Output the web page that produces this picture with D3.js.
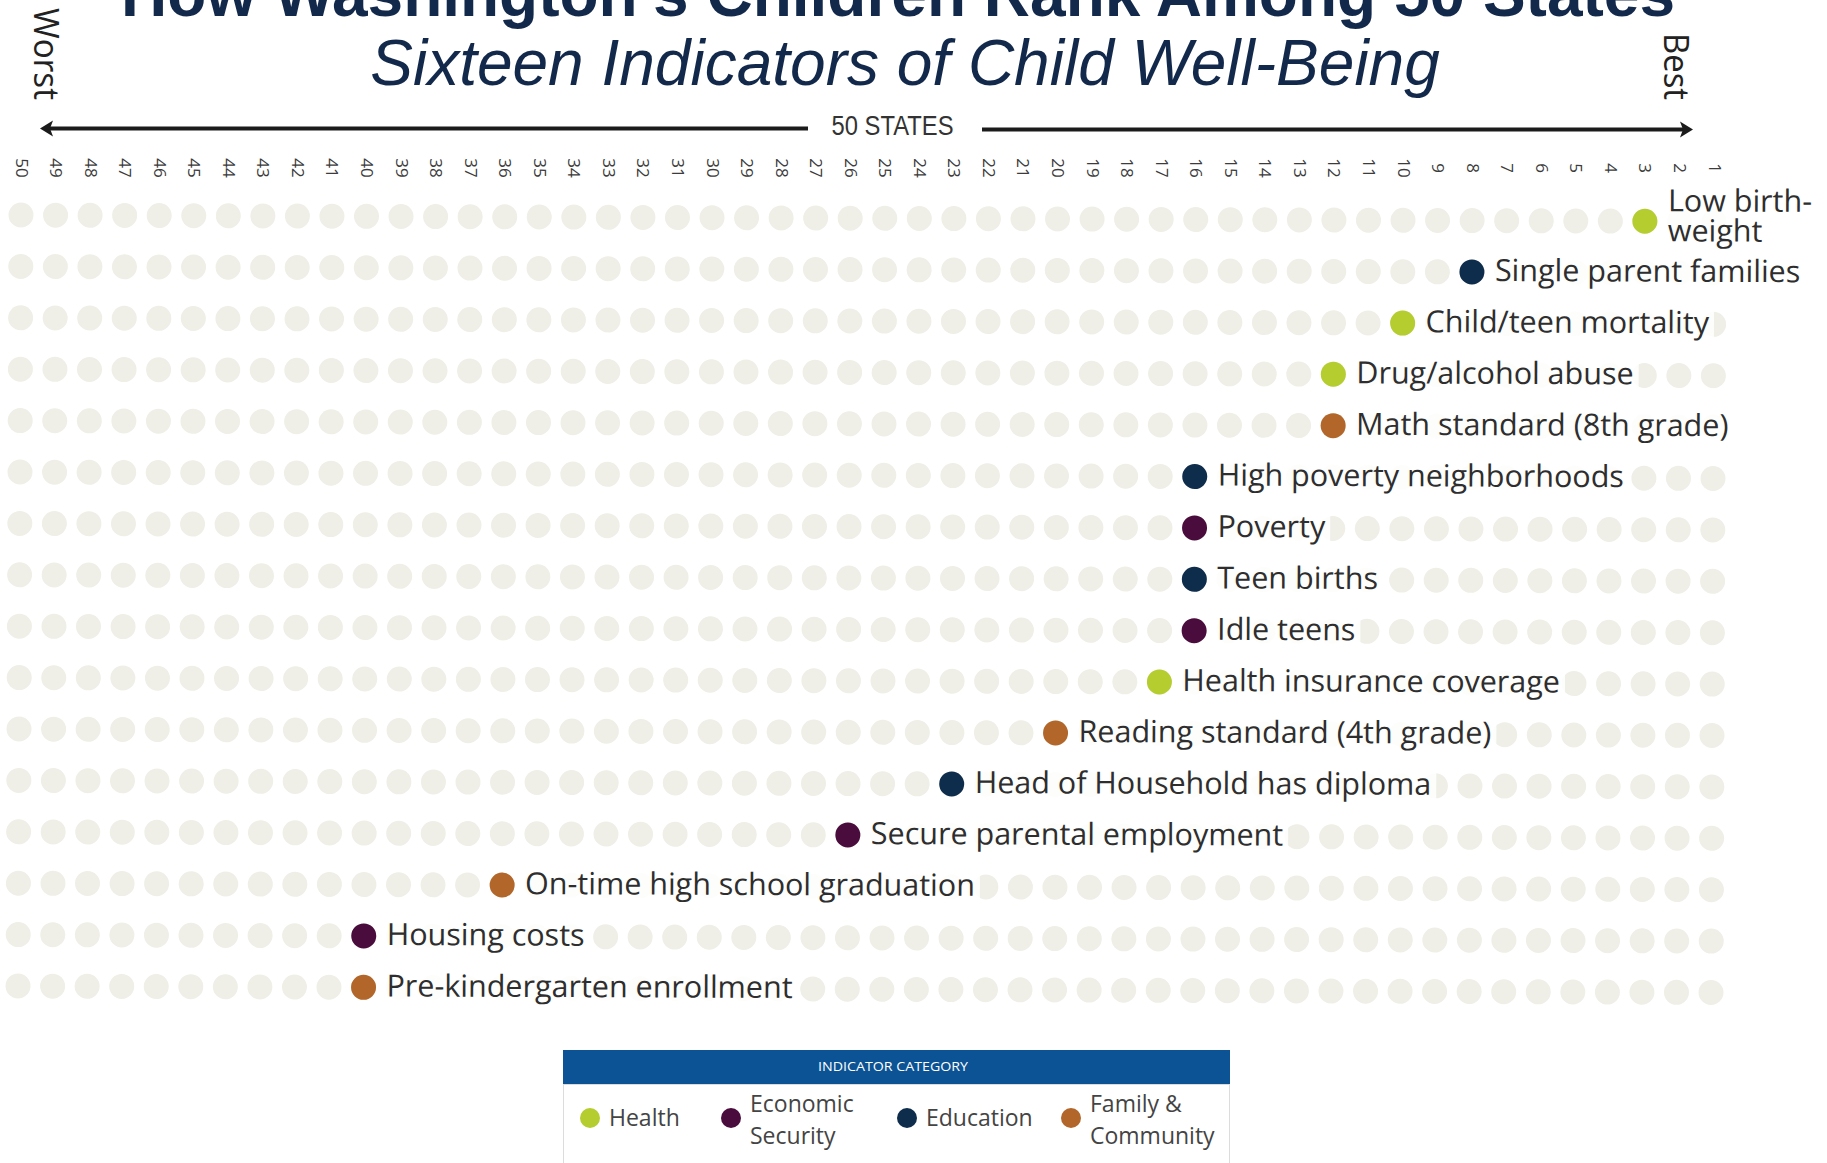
<!DOCTYPE html>
<html>
<head>
<meta charset="utf-8">
<script src="https://cdn.jsdelivr.net/npm/d3@7"></script>
<style>
  html, body { margin: 0; padding: 0; background: #ffffff; }
  svg { display: block; }
</style>
</head>
<body>
<script>
// State ranks, worst (50) on the left to best (1) on the right
const ranks = [50, 49, 48, 47, 46, 45, 44, 43, 42, 41, 40, 39, 38, 37, 36, 35, 34, 33, 32, 31,
               30, 29, 28, 27, 26, 25, 24, 23, 22, 21, 20, 19, 18, 17, 16, 15, 14, 13, 12, 11,
               10, 9, 8, 7, 6, 5, 4, 3, 2, 1];

// The sixteen indicators, top to bottom
const indicators = [
  "Low birth-weight",
  "Single parent families",
  "Child/teen mortality",
  "Drug/alcohol abuse",
  "Math standard (8th grade)",
  "High poverty neighborhoods",
  "Poverty",
  "Teen births",
  "Idle teens",
  "Health insurance coverage",
  "Reading standard (4th grade)",
  "Head of Household has diploma",
  "Secure parental employment",
  "On-time high school graduation",
  "Housing costs",
  "Pre-kindergarten enrollment"
];

// Washington's rank on each indicator
const waRanks = [3, 8, 10, 12, 12, 16, 16, 16, 16, 17, 20, 23, 26, 36, 40, 40];

// Category of each indicator's marker
const waCategories = [
  "Health", "Education", "Health", "Health", "Family & Community",
  "Education", "Economic Security", "Education", "Economic Security", "Health",
  "Family & Community", "Education", "Economic Security", "Family & Community",
  "Economic Security", "Family & Community"
];

// Legend categories and their colours
const categories = ["Health", "Economic Security", "Education", "Family & Community"];
const categoryLines = [["Health"], ["Economic", "Security"], ["Education"], ["Family &", "Community"]];
const categoryColors = ["#b6cd2f", "#4a0b3d", "#0e2c4b", "#b2662a"];

const W = 1827, H = 1163;
const labelFont = "'Open Sans', 'Liberation Sans', sans-serif";

const svg = d3.select("body").append("svg")
  .attr("width", W).attr("height", H)
  .attr("viewBox", `0 0 ${W} ${H}`);

const color = d3.scaleOrdinal().domain(categories).range(categoryColors);

const x = d3.scalePoint().domain(ranks).range([21, 1714]);
const y = d3.scalePoint().domain(indicators).range([215, 986]);

// ---- Titles ----
svg.append("text")
  .attr("x", 898).attr("y", 16)
  .attr("text-anchor", "middle")
  .style("font-family", "'Liberation Sans', Arial, sans-serif")
  .style("font-weight", "bold")
  .style("font-size", "64px")
  .attr("fill", "#13294b")
  .text("How Washington\u2019s Children Rank Among 50 States");

svg.append("text")
  .attr("x", 905).attr("y", 85)
  .attr("text-anchor", "middle")
  .style("font-family", "'Liberation Sans', Arial, sans-serif")
  .style("font-style", "italic")
  .style("font-size", "64px")
  .attr("fill", "#13294b")
  .text("Sixteen Indicators of Child Well-Being");

// ---- Worst / Best end labels ----
function endLabel(px, txt, len) {
  svg.append("text")
    .attr("transform", `translate(${px},100) rotate(90)`)
    .attr("text-anchor", "end")
    .attr("textLength", len)
    .attr("lengthAdjust", "spacingAndGlyphs")
    .style("font-family", labelFont)
    .style("font-size", "35px")
    .attr("fill", "#222")
    .text(txt);
}
endLabel(34, "Worst", 92);
endLabel(1664, "Best", 67);

// ---- Direction arrow with "50 STATES" ----
const arrow = svg.append("g").attr("fill", "#1b1b1b").attr("stroke", "#1b1b1b");
arrow.append("line")
  .attr("x1", 48).attr("x2", 808).attr("y1", 128.5).attr("y2", 128.5)
  .attr("stroke-width", 4);
arrow.append("path")
  .attr("stroke", "none")
  .attr("d", "M40,128.5 L53,120.5 L50,128.5 L53,136.5 Z");
arrow.append("line")
  .attr("x1", 982).attr("x2", 1684).attr("y1", 129.5).attr("y2", 129.5)
  .attr("stroke-width", 4);
arrow.append("path")
  .attr("stroke", "none")
  .attr("d", "M1693,129.5 L1680,121.5 L1683,129.5 L1680,137.5 Z");

svg.append("text")
  .attr("x", 892.5).attr("y", 135)
  .attr("text-anchor", "middle")
  .attr("textLength", 122)
  .attr("lengthAdjust", "spacingAndGlyphs")
  .style("font-family", "'Liberation Sans Narrow', 'Liberation Sans', sans-serif")
  .style("font-size", "28px")
  .attr("fill", "#333")
  .text("50 STATES");

// ---- Rank axis (rotated numbers) ----
const axisG = svg.append("g")
  .attr("transform", "translate(0,168)")
  .call(d3.axisBottom(x).tickSize(0).tickPadding(0));
axisG.select(".domain").remove();
axisG.attr("font-family", null).attr("font-size", null);
axisG.selectAll(".tick text")
  .attr("x", 0).attr("y", 6).attr("dy", null)
  .attr("transform", "rotate(90)")
  .attr("text-anchor", "middle")
  .style("font-family", labelFont)
  .style("font-size", "17px")
  .attr("fill", "#3c3c3c");

// ---- Dot grid ----
const grid = svg.append("g").attr("transform", "rotate(0.22, 21, 215)");

const cells = [];
indicators.forEach(ind => ranks.forEach(r => cells.push({ ind, r })));

grid.append("g").selectAll("circle")
  .data(cells)
  .join("circle")
  .attr("cx", d => x(d.r))
  .attr("cy", d => y(d.ind))
  .attr("r", 12.5)
  .attr("fill", "#efefe7");

const rows = indicators.map((ind, i) => ({ ind, rank: waRanks[i], cat: waCategories[i] }));

const labelG = grid.append("g");
rows.forEach(d => {
  const cx = x(d.rank), cy = y(d.ind);
  const g = labelG.append("g");
  const bg = g.append("rect").attr("fill", "#ffffff").attr("fill-opacity", 0.86);
  g.append("circle")
    .attr("cx", cx).attr("cy", cy).attr("r", 12.5)
    .attr("fill", color(d.cat));
  const tx = cx + 23;
  const t = g.append("text")
    .attr("x", tx).attr("y", cy + 9)
    .style("font-family", labelFont)
    .style("font-size", "30.5px")
    .attr("fill", "#2e2e2e")
    .text(d.ind);
  let w = t.node().getComputedTextLength();
  if (tx + w > W - 8 && d.ind.includes("-")) {
    // wrap after the hyphen when the label runs off the right edge
    const k = d.ind.indexOf("-") + 1;
    const parts = [d.ind.slice(0, k), d.ind.slice(k)];
    t.text(null).attr("y", null);
    parts.forEach((p, i) => {
      t.append("tspan").attr("x", tx).attr("y", cy - 10 + i * 30).text(p);
    });
    w = t.node().getBBox().width;
    bg.attr("x", cx + 14).attr("y", cy - 33).attr("width", w + 14).attr("height", 62);
  } else {
    bg.attr("x", cx + 14).attr("y", cy - 14).attr("width", w + 14).attr("height", 30);
  }
});

// ---- Legend ----
const legend = svg.append("g");
legend.append("rect")
  .attr("x", 563.5).attr("y", 1084.5).attr("width", 666).attr("height", 100)
  .attr("fill", "#ffffff").attr("stroke", "#dcdcdc").attr("stroke-width", 1);
legend.append("rect")
  .attr("x", 563).attr("y", 1050).attr("width", 667).attr("height", 34)
  .attr("fill", "#0b5394");
legend.append("text")
  .attr("x", 893).attr("y", 1071)
  .attr("text-anchor", "middle")
  .attr("textLength", 150)
  .attr("lengthAdjust", "spacingAndGlyphs")
  .style("font-family", labelFont)
  .style("font-size", "12px")
  .attr("fill", "#ffffff")
  .text("INDICATOR CATEGORY");

const legendTextX = [609, 750, 926, 1090];
categories.forEach((c, i) => {
  const item = legend.append("g");
  item.append("circle")
    .attr("cx", legendTextX[i] - 19).attr("cy", 1118).attr("r", 10)
    .attr("fill", color(c));
  const lines = categoryLines[i];
  const t = item.append("text")
    .style("font-family", labelFont)
    .style("font-size", "23px")
    .attr("fill", "#444");
  lines.forEach((ln, j) => {
    t.append("tspan")
      .attr("x", legendTextX[i])
      .attr("y", lines.length === 1 ? 1126 : 1112 + j * 32)
      .text(ln);
  });
});
</script>
</body>
</html>
